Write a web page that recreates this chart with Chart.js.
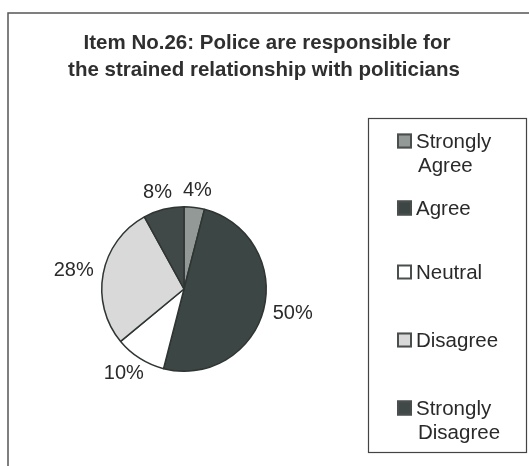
<!DOCTYPE html>
<html>
<head>
<meta charset="utf-8">
<script src="https://cdn.jsdelivr.net/npm/chart.js@4.4.0/dist/chart.umd.min.js"></script>
<style>
html,body{margin:0;padding:0;background:#fff;}
#wrap{position:relative;width:529px;height:466px;}
canvas{display:block;}
</style>
</head>
<body>
<div id="wrap"><canvas id="c" width="529" height="466"></canvas></div>
<script>
const titleLines = ["Item No.26: Police are responsible for", "the strained relationship with politicians"];
const categories = ["Strongly Agree", "Agree", "Neutral", "Disagree", "Strongly Disagree"];
const legendLines = [["Strongly", "Agree"], ["Agree"], ["Neutral"], ["Disagree"], ["Strongly", "Disagree"]];
const percentValues = [4, 50, 10, 28, 8];
const sliceColors = ["#939997", "#3c4644", "#ffffff", "#d9d9d9", "#404947"];

const frameAndTitle = {
  id: "frameAndTitle",
  beforeDraw(chart) {
    const ctx = chart.ctx;
    ctx.save();
    ctx.fillStyle = "#ffffff";
    ctx.fillRect(0, 0, chart.width, chart.height);
    ctx.strokeStyle = "#555";
    ctx.lineWidth = 1.5;
    ctx.beginPath();
    ctx.moveTo(8, 470);
    ctx.lineTo(8, 13);
    ctx.lineTo(535, 13);
    ctx.stroke();
    ctx.fillStyle = "#2f2f2f";
    ctx.font = "bold 20.5px 'Liberation Sans', Arial, sans-serif";
    ctx.textAlign = "center";
    ctx.textBaseline = "middle";
    ctx.fillText(titleLines[0], 267, 43);
    ctx.fillText(titleLines[1], 264, 70);
    ctx.restore();
  },
  afterDraw(chart) {
    const ctx = chart.ctx;
    ctx.save();
    // legend box
    ctx.strokeStyle = "#444";
    ctx.lineWidth = 1.2;
    ctx.strokeRect(368.5, 118.5, 158, 334);
    const ys = [141, 208, 272, 340, 408];
    ctx.font = "20.5px 'Liberation Sans', Arial, sans-serif";
    ctx.textBaseline = "middle";
    ctx.textAlign = "left";
    legendLines.forEach((lines, i) => {
      const y = ys[i];
      ctx.fillStyle = sliceColors[i];
      ctx.fillRect(397, y - 7.5, 15, 15);
      ctx.strokeStyle = "#4a4f4e";
      ctx.lineWidth = 2;
      ctx.strokeRect(398, y - 6.5, 13, 13);
      ctx.fillStyle = "#2a2a2a";
      ctx.fillText(lines[0], 416, y + 1);
      if (lines[1]) ctx.fillText(lines[1], 418, y + 25);
    });
    // data labels
    const meta = chart.getDatasetMeta(0);
    ctx.font = "20px 'Liberation Sans', Arial, sans-serif";
    ctx.textAlign = "center";
    ctx.fillStyle = "#2a2a2a";
    meta.data.forEach((arc, i) => {
      const p = arc.getProps(["x", "y", "startAngle", "endAngle", "outerRadius"], true);
      const mid = (p.startAngle + p.endAngle) / 2;
      const dx = Math.cos(mid), dy = Math.sin(mid);
      const txt = percentValues[i] + "%";
      const w = ctx.measureText(txt).width, h = 15;
      const r = p.outerRadius + 10;
      const x = p.x + dx * r + dx * w / 2;
      const y = p.y + dy * r + dy * h / 2;
      ctx.fillText(txt, x, y);
    });
    ctx.restore();
  }
};

new Chart(document.getElementById("c"), {
  type: "pie",
  data: {
    labels: categories,
    datasets: [{
      data: percentValues,
      backgroundColor: sliceColors,
      borderColor: "#2e3533",
      borderWidth: 1.5
    }]
  },
  options: {
    responsive: false,
    animation: false,
    events: [],
    layout: { padding: { left: 101, right: 262, top: 206, bottom: 94 } },
    plugins: { legend: { display: false }, title: { display: false }, tooltip: { enabled: false } }
  },
  plugins: [frameAndTitle]
});
</script>
</body>
</html>
